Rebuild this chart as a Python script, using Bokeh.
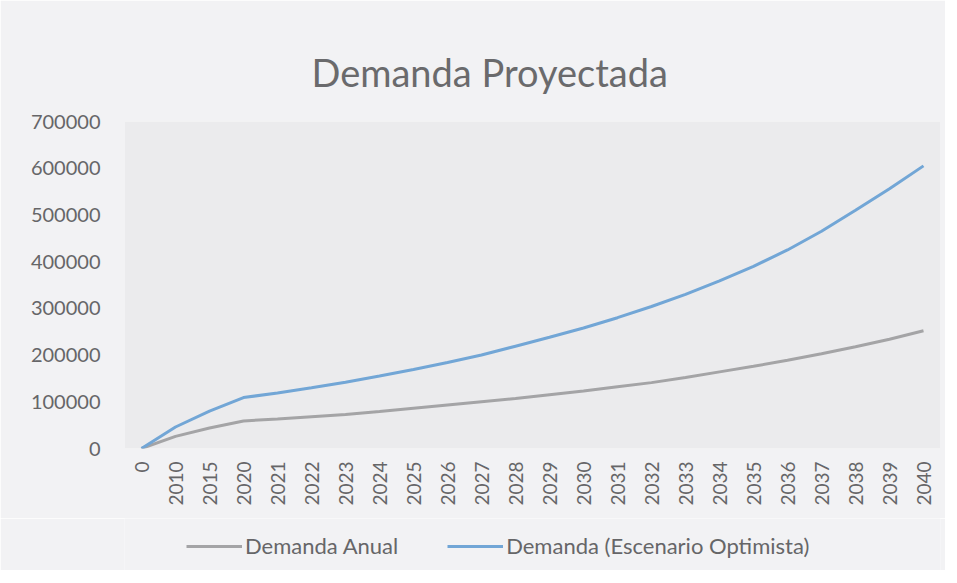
import math
from bokeh.plotting import figure
from bokeh.layouts import column
from bokeh.models import (FactorRange, Range1d, FixedTicker, BasicTickFormatter,
                          Legend, LegendItem)
from bokeh.embed import file_html
from bokeh.resources import INLINE

# ---- data ----
categories = ["0", "2010", "2015", "2020", "2021", "2022", "2023", "2024", "2025",
              "2026", "2027", "2028", "2029", "2030", "2031", "2032", "2033",
              "2034", "2035", "2036", "2037", "2038", "2039", "2040"]
demanda_anual = [0, 26000, 44000, 59000, 63000, 68000, 73000, 79000, 86000,
                 93000, 100000, 107000, 115000, 123000, 132000, 141000, 152000,
                 164000, 176000, 189000, 203000, 218000, 234000, 252000]
demanda_optimista = [0, 46000, 80000, 109000, 119000, 130000, 142000, 155000, 169000,
                     184000, 200000, 219000, 238000, 258000, 280000, 304000, 330000,
                     359000, 390000, 425000, 465000, 510000, 556000, 605000]
y_ticks = [0, 100000, 200000, 300000, 400000, 500000, 600000, 700000]
series_names = ["Demanda Anual", "Demanda (Escenario Optimista)"]
series_colors = ["#a4a4a6", "#72a6d6"]

FONT = "Lato"
TXT = "#666668"
BORDER = "#f2f2f4"

p = figure(x_range=FactorRange(*categories), y_range=Range1d(0, 700000),
           frame_width=816, frame_height=327,
           min_border_left=124, min_border_right=5,
           min_border_top=121, min_border_bottom=70,
           output_backend="svg", toolbar_location=None,
           background_fill_color="#ebebed", border_fill_color=BORDER,
           outline_line_color=None)

r1 = p.line(categories, demanda_anual, line_color=series_colors[0], line_width=3)
r2 = p.line(categories, demanda_optimista, line_color=series_colors[1], line_width=3)

# title
p.title.text = "Demanda Proyectada"
p.title.text_font = FONT
p.title.text_font_size = "38px"
p.title.text_font_style = "normal"
p.title.text_color = "#6a6a6c"
p.title.align = "left"
p.title.offset = 187
p.title.standoff = 54

# axes
p.yaxis.ticker = FixedTicker(ticks=y_ticks)
p.yaxis.formatter = BasicTickFormatter(use_scientific=False)
for ax in (p.xaxis, p.yaxis):
    ax.axis_line_color = None
    ax.major_tick_line_color = None
    ax.minor_tick_line_color = None
    ax.major_label_text_font = FONT
    ax.major_label_text_color = TXT
p.yaxis.major_label_text_font_size = "20px"
p.yaxis.major_label_standoff = 18
p.xaxis.major_label_text_font_size = "19px"
p.xaxis.major_label_orientation = math.pi / 2
p.xaxis.major_label_standoff = 7
p.xgrid.grid_line_color = None
p.ygrid.grid_line_color = None

# legend strip below the chart (separate small figure so it is never clipped);
# its series lie outside its visible y range, only the legend shows
p2 = figure(width=945, height=52, x_range=p.x_range, y_range=Range1d(-2, -1),
            min_border_left=0, min_border_right=0, min_border_top=0, min_border_bottom=0,
            output_backend="svg", toolbar_location=None,
            background_fill_color=BORDER, border_fill_color=BORDER,
            outline_line_color=None)
p2.axis.visible = False
p2.grid.visible = False
l1 = p2.line(categories, demanda_anual, line_color=series_colors[0], line_width=3)
l2 = p2.line(categories, demanda_optimista, line_color=series_colors[1], line_width=3)

legend = Legend(items=[LegendItem(label=series_names[0], renderers=[l1]),
                       LegendItem(label=series_names[1], renderers=[l2])],
                orientation="horizontal", location=(62, 11),
                glyph_width=56, glyph_height=20, label_standoff=3, spacing=49,
                padding=0, margin=0, border_line_color=None,
                background_fill_alpha=0,
                label_text_font=FONT, label_text_font_size="22px",
                label_text_color=TXT)
p2.add_layout(legend)

layout = column(p, p2, spacing=0)
open("out.html", "w").write(file_html(layout, INLINE))
